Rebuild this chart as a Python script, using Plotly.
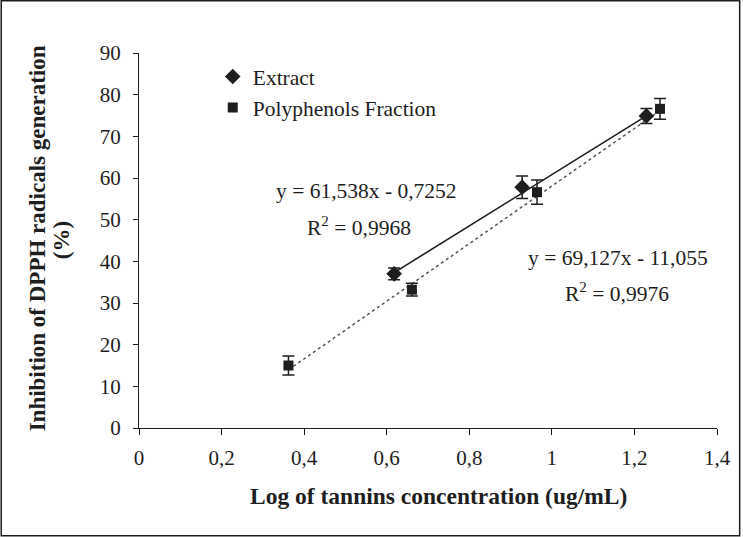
import plotly.graph_objects as go

# Data
extract_x = [0.618, 0.928, 1.229]
extract_y = [37.0, 57.8, 74.9]
extract_err = [1.4, 2.7, 1.8]

poly_x = [0.362, 0.661, 0.964, 1.262]
poly_y = [15.0, 33.2, 56.6, 76.6]
poly_err = [2.3, 1.55, 2.9, 2.5]

extract_fit = (61.538, -0.7252)
poly_fit = (69.127, -11.055)

x_ticks = [0, 0.2, 0.4, 0.6, 0.8, 1.0, 1.2, 1.4]
x_ticktext = ["0", "0,2", "0,4", "0,6", "0,8", "1", "1,2", "1,4"]
y_ticks = [0, 10, 20, 30, 40, 50, 60, 70, 80, 90]

FONT = "Liberation Serif, Times New Roman, serif"
INK = "#1e1e1e"

W, H = 743, 537
L, R, T, B = 139, 24, 53, 109
PW, PH = W - L - R, H - T - B

def px_to_paper(px, py):
    return (px - L) / PW, (H - B - py) / PH

fig = go.Figure()

# trendlines
ex_line_x = [min(extract_x), max(extract_x)]
fig.add_trace(go.Scatter(
    x=ex_line_x, y=[extract_fit[0] * v + extract_fit[1] for v in ex_line_x],
    mode="lines", line=dict(color=INK, width=1.6), showlegend=False, hoverinfo="skip"))
po_line_x = [min(poly_x), max(poly_x)]
fig.add_trace(go.Scatter(
    x=po_line_x, y=[poly_fit[0] * v + poly_fit[1] for v in po_line_x],
    mode="lines", line=dict(color="#555555", width=1.5, dash="dot"), showlegend=False, hoverinfo="skip"))

fig.add_trace(go.Scatter(
    x=extract_x, y=extract_y, mode="markers", name="Extract", legendgroup="a",
    marker=dict(symbol="diamond", size=12, color=INK),
    error_y=dict(type="data", array=extract_err, visible=True, color=INK, thickness=1.5, width=6)))
fig.add_trace(go.Scatter(
    x=poly_x, y=poly_y, mode="markers", name="Polyphenols Fraction", legendgroup="b",
    marker=dict(symbol="square", size=10, color=INK),
    error_y=dict(type="data", array=poly_err, visible=True, color=INK, thickness=1.5, width=6)))

annots = [
    dict(x=0.550, y=56.9, text="y = 61,538x - 0,7252"),
    dict(x=0.533, y=48.3, text="R<sup>2</sup> = 0,9968"),
    dict(x=1.159, y=40.9, text="y = 69,127x - 11,055"),
    dict(x=1.157, y=32.5, text="R<sup>2</sup> = 0,9976"),
]
annotations = [dict(xref="x", yref="y", showarrow=False, font=dict(family=FONT, size=21.5, color=INK), **a) for a in annots]

# axis titles
tx, ty = px_to_paper(440, 496)
annotations.append(dict(xref="paper", yref="paper", x=tx, y=ty, xanchor="center", yanchor="middle",
                        showarrow=False, text="<b>Log of tannins concentration (ug/mL)</b>",
                        font=dict(family=FONT, size=23.5, color=INK)))
yx1, yy1 = px_to_paper(38, 238)
annotations.append(dict(xref="paper", yref="paper", x=yx1, y=yy1, xanchor="center", yanchor="middle",
                        showarrow=False, textangle=-90,
                        text="<b>Inhibition of DPPH radicals generation</b>",
                        font=dict(family=FONT, size=23, color=INK)))
yx2, yy2 = px_to_paper(61, 240)
annotations.append(dict(xref="paper", yref="paper", x=yx2, y=yy2, xanchor="center", yanchor="middle",
                        showarrow=False, textangle=-90, text="<b>(%)</b>",
                        font=dict(family=FONT, size=23, color=INK)))

bx0, by1 = px_to_paper(0.75, 0.75)
bx1, by0 = px_to_paper(W - 1.25, H - 1.25)
shapes = [dict(type="rect", xref="paper", yref="paper", x0=bx0, x1=bx1, y0=by0, y1=by1,
               line=dict(color=INK, width=1.5), fillcolor="rgba(0,0,0,0)")]

lx, ly = px_to_paper(213, 56)

fig.update_layout(
    width=W, height=H,
    margin=dict(l=L, r=R, t=T, b=B),
    paper_bgcolor="white", plot_bgcolor="white",
    font=dict(family=FONT, size=21, color=INK),
    showlegend=True,
    legend=dict(x=lx, y=ly, xanchor="left", yanchor="top", bgcolor="rgba(0,0,0,0)",
                font=dict(family=FONT, size=21.5, color=INK), tracegroupgap=0),
    annotations=annotations,
    shapes=shapes,
    xaxis=dict(range=[0, 1.4], tickvals=x_ticks, ticktext=x_ticktext, showgrid=False, zeroline=False,
               showline=True, linecolor=INK, linewidth=1.2, ticks="outside", ticklen=6, tickcolor=INK,
               tickwidth=1.2, ticklabelstandoff=5, tickfont=dict(family=FONT, size=21, color=INK)),
    yaxis=dict(range=[0, 90], tickvals=y_ticks, showgrid=False, zeroline=False,
               showline=True, linecolor=INK, linewidth=1.2, ticks="outside", ticklen=5, tickcolor=INK,
               tickwidth=1.2, ticklabelstandoff=8, tickfont=dict(family=FONT, size=21, color=INK)),
)

fig.write_html("out.html", config={"displayModeBar": False},
               post_script="document.body.style.margin='0';document.body.style.overflow='hidden';")
